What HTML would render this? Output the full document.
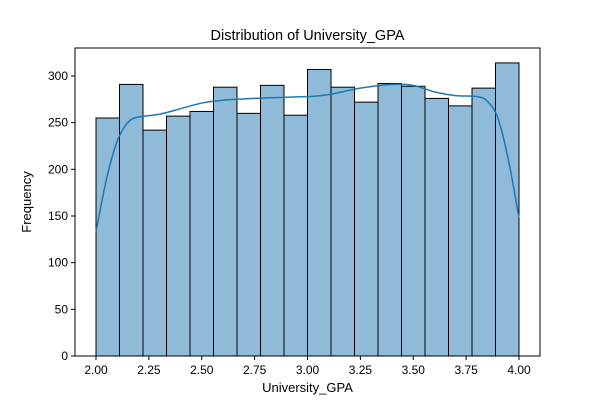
<!DOCTYPE html>
<html><head><meta charset="utf-8"><style>
body{margin:0;background:#fff}
svg text{font-family:"Liberation Sans","DejaVu Sans",sans-serif;fill:#000}
</style></head><body>
<svg id="c" width="600" height="400" viewBox="0 0 600 400">
<rect width="600" height="400" fill="#fff"/>
<g id="bars"></g><g id="kde"></g><g id="axes"></g>
</svg>
<script>
const binStart=2.0, binEnd=4.0;
const counts=[255,291,242,257,262,288,260,290,258,307,288,272,292,289,276,268,287,314];
const kdeX=[2.0,2.05,2.1,2.15,2.2,2.3,2.4,2.5,2.6,2.75,3.0,3.1,3.25,3.4,3.5,3.6,3.7,3.8,3.85,3.9,3.95,4.0];
const kdeY=[133,190,230,250,256,259,265,271,274,276,278,280,287,291,290,283,279,278,273,255,210,148];
const xTicks=[2.00,2.25,2.50,2.75,3.00,3.25,3.50,3.75,4.00];
const yTicks=[0,50,100,150,200,250,300];
const L=75,R=540,T=48,B=356;
const sx=v=>96+(v-2)*(519-96)/2;
const sy=v=>B-v*280/300;
const NS="http://www.w3.org/2000/svg";
function mk(t,a,p){const e=document.createElementNS(NS,t);for(const k in a)e.setAttribute(k,a[k]);p.appendChild(e);return e;}
const bars=document.getElementById('bars'),kde=document.getElementById('kde'),ax=document.getElementById('axes');
const w=(binEnd-binStart)/counts.length;
counts.forEach((c,i)=>{
 const x0=sx(binStart+i*w),x1=sx(binStart+(i+1)*w);
 const r=mk('rect',{x:x0,y:sy(c),width:x1-x0,height:B-sy(c),fill:'#8fbbd9',stroke:'#000','stroke-width':1},bars);
 
 
});
const P=kdeX.map((x,i)=>[sx(x),sy(kdeY[i])]);
let d='M'+P[0][0]+','+P[0][1];
for(let i=0;i<P.length-1;i++){
 const p0=P[Math.max(0,i-1)],p1=P[i],p2=P[i+1],p3=P[Math.min(P.length-1,i+2)];
 const c1=[p1[0]+(p2[0]-p0[0])/6,p1[1]+(p2[1]-p0[1])/6];
 const c2=[p2[0]-(p3[0]-p1[0])/6,p2[1]-(p3[1]-p1[1])/6];
 d+=' C'+c1.join(',')+' '+c2.join(',')+' '+p2.join(',');
}
const pl=mk('path',{d:d,fill:'none',stroke:'#1f77b4','stroke-width':1.5},kde);


const fr=mk('rect',{x:L,y:T,width:R-L,height:B-T,fill:'none',stroke:'#000','stroke-width':1},ax);


xTicks.forEach(v=>{
 mk('line',{x1:sx(v),x2:sx(v),y1:B,y2:B+4,stroke:'#000'},ax);
 const t=mk('text',{x:sx(v),y:B+18,'text-anchor':'middle','font-size':12},ax);t.textContent=v.toFixed(2);
 
 
});
yTicks.forEach(v=>{
 mk('line',{x1:L-4,x2:L,y1:sy(v),y2:sy(v),stroke:'#000'},ax);
 const t=mk('text',{x:L-7,y:sy(v)+4,'text-anchor':'end','font-size':12},ax);t.textContent=v;
 
 
});
let t=mk('text',{x:(L+R)/2,y:40,'text-anchor':'middle','font-size':14.5},ax);t.textContent='Distribution of University_GPA';


t=mk('text',{x:(L+R)/2,y:392,'text-anchor':'middle','font-size':13},ax);t.textContent='University_GPA';


t=mk('text',{x:31,y:(T+B)/2,'text-anchor':'middle','font-size':13,transform:'rotate(-90 31 '+(T+B)/2+')'},ax);t.textContent='Frequency';


</script>
</body></html>
